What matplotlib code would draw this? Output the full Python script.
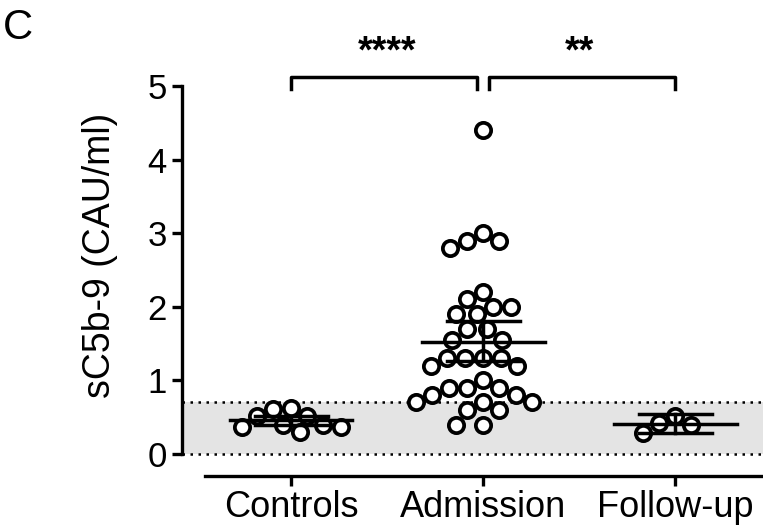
import numpy as np
import matplotlib
matplotlib.use("Agg")
from matplotlib import pyplot as plt

plt.rcParams['font.family'] = ['Liberation Sans', 'DejaVu Sans']

# ---- data ----
groups = ["Controls", "Admission", "Follow-up"]
controls = [0.62, 0.52, 0.40, 0.37, 0.30, 0.37, 0.40, 0.51, 0.61]
admission = [4.4, 3.0, 2.9, 2.8, 2.9, 2.2, 2.1, 1.9, 2.0, 2.0, 1.9,
             1.7, 1.7, 1.55, 1.55, 1.3, 1.3, 1.3, 1.3, 1.2, 1.2, 1.0,
             0.9, 0.8, 0.8, 0.9, 0.9, 0.7, 0.7, 0.7, 0.6, 0.6, 0.4, 0.4]
followup = [0.42, 0.29, 0.40, 0.52]
err_low = [0.39, 1.26, 0.29]
err_high = [0.52, 1.81, 0.54]
normal_upper = 0.7
yticks = [0, 1, 2, 3, 4, 5]
sig_pairs = [(0, 1, "****"), (1, 2, "**")]


def swarm_offsets(vals, ax, x0, diam_px):
    # greedy beeswarm in pixel space, returns x offsets in data units
    to_px = ax.transData.transform
    ypx = np.array([to_px((x0, v))[1] for v in vals])
    sx = to_px((x0 + 1, 0))[0] - to_px((x0, 0))[0]
    order = np.argsort(ypx)[::-1]
    placed = []
    offs = np.zeros(len(vals))
    for i in order:
        y = ypx[i]
        cands = [0.0]
        for (px, py) in placed:
            dy = abs(py - y)
            if dy < diam_px:
                dx = np.sqrt(diam_px ** 2 - dy ** 2)
                cands += [px + dx, px - dx]
        cands = sorted(cands, key=lambda c: (abs(c), c))
        for c in cands:
            if all((c - px) ** 2 + (y - py) ** 2 >= diam_px ** 2 - 1e-6 for (px, py) in placed):
                break
        placed.append((c, y))
        offs[i] = c / sx
    return offs


fig = plt.figure(figsize=(7.63, 5.29), dpi=100)
ax = fig.add_axes([182 / 763, 75 / 529, 581 / 763, 368 / 529])
ax.set_xlim(-0.568, 2.458)
ax.set_ylim(0, 5)

# normal range band
ax.axhspan(0, normal_upper, color="#e4e4e4", zorder=0, lw=0)
for yv in (0, normal_upper):
    ax.axhline(yv, color="black", lw=1.8, ls=(0, (1, 2.2)), zorder=1, clip_on=False)

data = [controls, admission, followup]
for gi, vals in enumerate(data):
    offs = swarm_offsets(vals, ax, gi, 18)
    ax.plot(gi + offs, vals, "o", ms=11, mfc="white", mec="black", mew=2.7,
            ls="none", zorder=3, clip_on=False)
    m = np.mean(vals)
    ax.plot([gi - 0.32, gi + 0.32], [m, m], color="black", lw=2.5, zorder=4)
    ax.plot([gi, gi], [err_low[gi], err_high[gi]], color="black", lw=2.5, zorder=4)
    for e in (err_low[gi], err_high[gi]):
        ax.plot([gi - 0.19, gi + 0.19], [e, e], color="black", lw=2.5, zorder=4)

# significance brackets
for a, b, txt in sig_pairs:
    xa = a + (0.03 if a == 1 else 0)
    xb = b - (0.03 if b == 1 else 0)
    ax.plot([xa, xa, xb, xb], [4.96, 5.12, 5.12, 4.96], color="black", lw=2.5,
            clip_on=False)
    ax.text((a + b) / 2, 5.45, txt, ha="center", va="center", fontsize=27,
            fontweight="bold")

# axes styling
for s in ("top", "right"):
    ax.spines[s].set_visible(False)
ax.spines["left"].set_linewidth(2.4)
ax.spines["bottom"].set_linewidth(2.4)
ax.spines["bottom"].set_position(("outward", 16))
ax.spines["bottom"].set_bounds(-0.45, 2.458)
ax.set_yticks(yticks)
ax.set_xticks(range(len(groups)))
ax.set_xticklabels(groups)
ax.tick_params(axis="y", direction="out", length=7, width=2.4, labelsize=25, pad=4)
ax.tick_params(axis="x", direction="out", length=7, width=2.4, labelsize=26, pad=3)

fig.text(100 / 763, 1 - 255 / 529, "sC5b-9 (CAU/ml)", rotation=90,
         ha="center", va="center", fontsize=27)
fig.text(3 / 763, 1 - 8 / 529, "C", ha="left", va="top", fontsize=30)

fig.savefig("out.png", dpi=100)
